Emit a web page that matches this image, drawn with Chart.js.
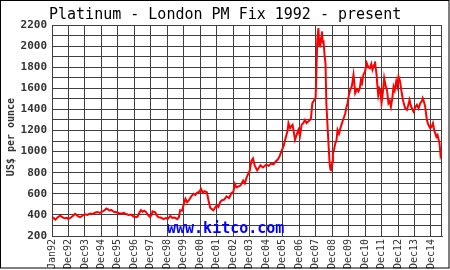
<!DOCTYPE html>
<html>
<head>
<title>Platinum - London PM Fix</title>
<script src="https://cdn.jsdelivr.net/npm/chart.js"></script>
<style>
  body{ margin:0; background:#fff; }
  #wrap{ width:450px; height:270px; }
</style>
</head>
<body>
<div id="wrap"><canvas id="myChart" width="450" height="270"></canvas></div>
<script>
// decimal year of each reading, and the fix price in US$ per ounce
const years = [
  1992.0,1992.1,1992.2,1992.35,1992.5,1992.6,1992.75,1992.9,
  1993.0,1993.15,1993.3,1993.4,1993.5,1993.6,1993.7,1993.85,
  1994.0,1994.15,1994.3,1994.45,1994.6,1994.75,1994.9,
  1995.05,1995.2,1995.3,1995.4,1995.5,1995.6,1995.75,1995.9,
  1996.05,1996.2,1996.35,1996.5,1996.65,1996.8,1996.95,
  1997.1,1997.2,1997.3,1997.4,1997.5,1997.6,1997.7,1997.8,1997.95,
  1998.05,1998.1,1998.27,1998.35,1998.47,1998.6,1998.77,1998.9,
  1999.05,1999.18,1999.3,1999.45,1999.6,1999.7,1999.78,1999.9,
  2000.0,2000.1,2000.2,2000.3,2000.45,2000.6,2000.7,2000.8,2000.95,
  2001.04,2001.15,2001.25,2001.4,2001.5,2001.6,2001.7,2001.8,2001.9,
  2002.0,2002.1,2002.2,2002.3,2002.45,2002.6,2002.75,2002.9,
  2003.0,2003.1,2003.2,2003.3,2003.45,2003.6,2003.7,2003.8,2003.9,
  2004.0,2004.1,2004.2,2004.3,2004.45,2004.55,2004.65,2004.8,
  2005.0,2005.15,2005.3,2005.45,2005.55,2005.7,2005.8,2005.95,
  2006.05,2006.15,2006.3,2006.35,2006.45,2006.52,2006.6,2006.68,2006.75,2006.85,2006.95,
  2007.05,2007.15,2007.25,2007.35,2007.45,2007.55,2007.65,2007.72,2007.8,2007.92,
  2008.0,2008.04,2008.1,2008.17,2008.22,2008.28,2008.33,2008.38,2008.43,2008.48,2008.55,
  2008.6,2008.65,2008.72,2008.78,2008.85,2008.9,2008.95,
  2009.0,2009.05,2009.12,2009.19,2009.26,2009.33,2009.42,2009.5,2009.58,2009.66,2009.73,2009.8,2009.87,2009.94,
  2010.02,2010.1,2010.2,2010.3,2010.35,2010.4,2010.5,2010.6,2010.68,2010.75,2010.82,2010.9,
  2011.0,2011.1,2011.2,2011.3,2011.38,2011.45,2011.55,2011.6,2011.65,2011.7,2011.75,2011.8,2011.87,2011.92,
  2012.0,2012.08,2012.16,2012.25,2012.33,2012.42,2012.5,2012.57,2012.65,2012.73,2012.8,2012.89,2012.95,
  2013.03,2013.1,2013.14,2013.22,2013.3,2013.38,2013.44,2013.54,2013.62,2013.7,2013.77,2013.84,2013.94,
  2014.05,2014.15,2014.25,2014.35,2014.45,2014.5,2014.58,2014.65,2014.75,2014.85,2014.96,
  2015.05,2015.12,2015.2,2015.26,2015.33,2015.4,2015.47,2015.52,2015.58,2015.64
];
const prices = [
  360,372,355,378,394,380,368,372,
  360,375,395,410,398,385,378,392,
  405,400,412,408,420,428,418,
  430,445,460,452,440,448,430,425,
  418,412,420,408,400,403,385,
  378,385,420,445,430,440,428,405,381,
  400,434,425,395,378,375,360,370,
  365,390,372,375,360,378,444,440,
  506,553,520,537,575,600,590,609,620,
  647,610,625,615,537,469,455,444,470,
  490,475,520,537,545,575,560,609,
  615,693,660,668,680,725,700,750,787,
  820,912,935,870,822,844,870,850,
  877,865,886,880,902,925,950,1015,
  1050,1112,1200,1270,1222,1240,1254,1180,1112,1160,1206,
  1150,1254,1270,1300,1270,1285,1300,1320,1459,1490,
  1510,1712,2060,2171,2000,1997,2080,2139,2040,2044,1900,
  1839,1459,1252,1078,888,830,825,
  900,983,1020,1078,1100,1205,1170,1220,1260,1300,1330,1363,1420,1459,
  1540,1585,1620,1728,1650,1554,1590,1569,1600,1680,1650,1728,
  1760,1839,1800,1791,1830,1776,1820,1855,1790,1728,1620,1537,1600,1585,
  1459,1560,1696,1620,1585,1459,1480,1426,1500,1616,1580,1665,1620,
  1712,1680,1648,1560,1490,1440,1411,1395,1440,1490,1440,1411,1379,
  1420,1443,1410,1459,1480,1506,1470,1426,1300,1252,1220,
  1240,1269,1200,1173,1140,1157,1110,1078,967,1000
];
// x ticks: Jan92 at the start, then the end of each December
const tickYears = [1992,1993,1994,1995,1996,1997,1998,1999,2000,2001,2002,2003,
  2004,2005,2006,2007,2008,2009,2010,2011,2012,2013,2014,2015];
const tickLabels = ['Jan92','Dec92','Dec93','Dec94','Dec95','Dec96','Dec97','Dec98',
  'Dec99','Dec00','Dec01','Dec02','Dec03','Dec04','Dec05','Dec06','Dec07','Dec08',
  'Dec09','Dec10','Dec11','Dec12','Dec13','Dec14'];
const titleText = 'Platinum - London PM Fix 1992 - present';
const yTitle = 'US$ per ounce';
const watermark = 'www.kitco.com';

const gridColor = '#404040';

const frame = {
  id: 'frame',
  beforeDraw(chart){
    const c = chart.ctx, a = chart.chartArea;
    c.save();
    c.fillStyle = '#fff';
    c.fillRect(0, 0, chart.width, chart.height);
    c.restore();
  },
  beforeDatasetsDraw(chart){
    const c = chart.ctx, a = chart.chartArea;
    c.save();
    c.strokeStyle = gridColor;
    c.lineWidth = 1;
    c.strokeRect(Math.round(a.left)+0.5, Math.round(a.top)+0.5,
      Math.round(a.right-a.left)-1, Math.round(a.bottom-a.top));
    // watermark
    c.fillStyle = '#0000ff';
    c.font = 'bold 15px "DejaVu Sans Mono", monospace';
    c.textBaseline = 'alphabetic';
    c.fillText(watermark, 167, 233);
    c.restore();
  },
  afterDraw(chart){
    const c = chart.ctx;
    c.save();
    // title
    c.fillStyle = '#000';
    c.font = '15px "DejaVu Sans Mono", monospace';
    c.textBaseline = 'alphabetic';
    c.fillText(titleText, 49, 19);
    // y axis title
    c.translate(14, 137);
    c.rotate(-Math.PI/2);
    c.textAlign = 'center';
    c.fillStyle = '#333';
    c.font = 'bold 10px "DejaVu Sans Mono", monospace';
    c.fillText(yTitle, 0, 0);
    c.restore();
    c.save();
    c.strokeStyle = '#000';
    c.lineWidth = 1;
    c.strokeRect(0.5, 0.5, 448.5, 267.5);
    c.restore();
  }
};

new Chart(document.getElementById('myChart'), {
  type: 'line',
  data: {
    datasets: [{
      data: years.map((y, i) => ({x: y, y: prices[i]})),
      borderColor: '#ff0000',
      borderWidth: 2,
      pointRadius: 0,
      tension: 0,
      fill: false
    }]
  },
  options: {
    responsive: false,
    animation: false,
    devicePixelRatio: 1,
    layout: { padding: { top: 25, right: 8, left: 0, bottom: 0 } },
    plugins: { legend: { display: false }, tooltip: { enabled: false }, title: { display: false } },
    scales: {
      x: {
        type: 'linear',
        min: 1992,
        max: 2015.67,
        afterBuildTicks(scale){ scale.ticks = tickYears.map(v => ({value: v})); },
        afterFit(scale){ scale.height = 34; },
        grid: { color: gridColor, drawTicks: false, lineWidth: 1 },
        border: { color: gridColor },
        ticks: {
          autoSkip: false,
          maxRotation: 90,
          minRotation: 90,
          padding: 3,
          color: '#333',
          font: { family: '"DejaVu Sans Mono", monospace', size: 10 },
          callback(v, i){ return tickLabels[i]; }
        }
      },
      y: {
        min: 200,
        max: 2200,
        afterBuildTicks(scale){
          const t = [];
          for (let v = 200; v <= 2200; v += 100) t.push({value: v});
          scale.ticks = t;
        },
        afterFit(scale){ scale.width = 52; },
        grid: { color: gridColor, drawTicks: false, lineWidth: 1 },
        border: { color: gridColor },
        ticks: {
          autoSkip: false,
          padding: 5,
          color: '#333',
          font: { family: '"DejaVu Sans Mono", monospace', size: 11, weight: 'bold' },
          callback(v){ return v % 200 === 0 ? String(v) : ''; }
        }
      }
    }
  },
  plugins: [frame]
});
</script>
</body>
</html>
